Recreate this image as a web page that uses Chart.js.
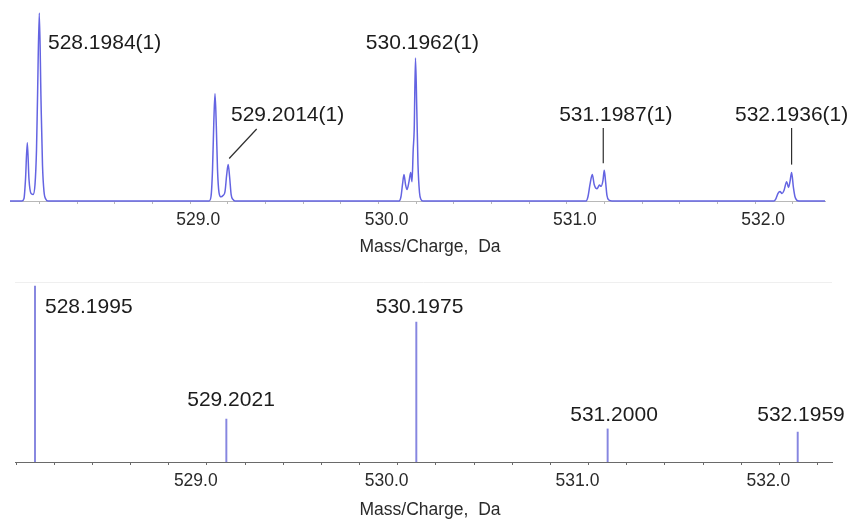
<!DOCTYPE html>
<html>
<head>
<meta charset="utf-8">
<title>Isotope pattern: measured vs. theoretical</title>
<script src="https://cdn.jsdelivr.net/npm/chart.js@4.4.1/dist/chart.umd.min.js"></script>
<style>
  html, body { margin: 0; padding: 0; background: #ffffff; }
  #wrap { position: relative; width: 852px; height: 521px; overflow: hidden; }
  canvas { position: absolute; left: 0; }
  #profile { top: 0; }
  #sticks { top: 262px; }
</style>
</head>
<body>
<div id="wrap">
  <canvas id="profile" width="852" height="261"></canvas>
  <canvas id="sticks" width="852" height="259"></canvas>
</div>
<script>
// ---- Measured profile spectrum, one isotope cluster per array: [m/z, relative intensity %]
const cluster528 = [
  [528.0428, 0], [528.1065, 0], [528.1172, 1.3], [528.1251, 11.4], [528.1347, 31],
  [528.1437, 11.4], [528.1543, 4], [528.1649, 3.4], [528.1756, 8.8], [528.1835, 27],
  [528.1888, 54], [528.1984, 100], [528.2074, 54], [528.2154, 19], [528.2234, 5],
  [528.2340, 0.8], [528.2446, 0]
];
const cluster529 = [
  [529.0997, 0], [529.1103, 2.4], [529.1183, 16.7], [529.1252, 42], [529.1315, 57],
  [529.1384, 40], [529.1448, 16.7], [529.1528, 4.5], [529.1634, 2.2], [529.1740, 2.9],
  [529.1846, 5], [529.1936, 14], [529.2014, 19.4], [529.2094, 12.5], [529.2173, 3.4],
  [529.2269, 0.8], [529.2376, 0]
];
const cluster530 = [
  [530.1087, 0], [530.1193, 2.4], [530.1273, 8.8], [530.1352, 14.1], [530.1432, 8.8],
  [530.1512, 6.1], [530.1618, 10.3], [530.1708, 15.1], [530.1777, 10.3], [530.1841, 27.3],
  [530.1894, 38], [530.1962, 76.1], [530.2032, 48.5], [530.2095, 19.4], [530.2175, 4.5],
  [530.2255, 0.8], [530.2361, 0]
];
const cluster531 = [
  [531.1018, 0], [531.1124, 2.4], [531.1230, 8.8], [531.1352, 14.1], [531.1453, 8.8],
  [531.1603, 6.5], [531.1735, 8.5], [531.1815, 7.8], [531.1920, 11], [531.1987, 16.3],
  [531.2060, 10], [531.2130, 3], [531.2230, 0.5], [531.2396, 0]
];
const cluster532 = [
  [532.1001, 0], [532.1107, 1.3], [532.1214, 4], [532.1320, 5], [532.1426, 4],
  [532.1532, 5.6], [532.1676, 10.3], [532.1771, 7.2], [532.1851, 10.3], [532.1936, 15.1],
  [532.2032, 7.2], [532.2112, 2.4], [532.2218, 0.3], [532.2324, 0], [532.3710, 0]
];

// Centroid masses annotated on the measured spectrum
const profilePeakMz = [528.1984, 529.2014, 530.1962, 531.1987, 532.1936];

// ---- Theoretical isotope distribution (stick spectrum)
const stickMz = [528.1995, 529.2021, 530.1975, 531.2000, 532.1959];
const stickIntensity = [100, 24.4, 79.5, 18.8, 17.0];

// ---- Shared x-axis tick positions (every 0.2 Da, labelled on whole Da)
const tickValues = [528.2, 528.4, 528.6, 528.8, 529.0, 529.2, 529.4, 529.6, 529.8, 530.0,
                    530.2, 530.4, 530.6, 530.8, 531.0, 531.2, 531.4, 531.6, 531.8, 532.0, 532.2];
const axisTitle = 'Mass/Charge,  Da';

// ---- Annotation placement (pixel offsets from the peak, text centre row)
const profileLabelLayout = [
  { align: 'left',   dx: 8.7,  ty: 43 },
  { align: 'left',   dx: 2.8,  ty: 115, leader: [1, -6, 28.5, 129] },
  { align: 'center', dx: 7,    ty: 43 },
  { align: 'center', dx: 11.5, ty: 115, leader: [-1, -7, -1, 128] },
  { align: 'center', dx: 0,    ty: 115, leader: [0, -8, 0, 128] }
];
const stickLabelLayout = [
  { align: 'left',   dx: 10,  ty: 45 },
  { align: 'center', dx: 4.7, ty: 138 },
  { align: 'center', dx: 3.2, ty: 45 },
  { align: 'center', dx: 6.4, ty: 153 },
  { align: 'center', dx: 3.3, ty: 153 }
];

const FONT = "'Liberation Sans', Arial, Helvetica, sans-serif";
const spectrum = [...cluster528, ...cluster529, ...cluster530, ...cluster531, ...cluster532];

function massAxis(min, max, axisColor, axisHeight) {
  return {
    type: 'linear',
    min, max,
    offset: false,
    afterBuildTicks: s => { s.ticks = tickValues.map(v => ({ value: v })); },
    afterFit: s => { s.height = axisHeight; },
    ticks: {
      autoSkip: false,
      maxRotation: 0,
      padding: 6,
      labelOffset: 8,
      color: '#2a2a2a',
      font: { family: FONT, size: 17.5 },
      callback: v => (Math.abs(v - Math.round(v)) < 1e-6 ? v.toFixed(1) : '')
    },
    grid: { display: true, drawOnChartArea: false, drawTicks: true, tickLength: 3, tickColor: axisColor },
    border: { display: true, color: axisColor, width: 1 },
    title: { display: false }
  };
}

// Axis caption under each mass axis
const axisCaption = {
  id: 'axisCaption',
  afterDraw(chart, args, opts) {
    const { ctx } = chart;
    ctx.save();
    ctx.font = `17.5px ${FONT}`;
    ctx.fillStyle = '#2a2a2a';
    ctx.textAlign = 'center';
    ctx.textBaseline = 'middle';
    ctx.fillText(axisTitle, opts.cx, opts.cy);
    ctx.restore();
  }
};

// Peak annotations for the measured spectrum, with leader lines where used
const profileLabels = {
  id: 'profileLabels',
  afterDatasetsDraw(chart) {
    const { ctx, scales: { x, y } } = chart;
    ctx.save();
    ctx.font = `21px ${FONT}`;
    ctx.fillStyle = '#1c1c1c';
    ctx.textBaseline = 'middle';
    ctx.strokeStyle = '#2e2e2e';
    ctx.lineWidth = 1.2;
    profilePeakMz.forEach((mz, i) => {
      const apex = spectrum.reduce((a, p) => (Math.abs(p[0] - mz) < Math.abs(a[0] - mz) ? p : a));
      const px = x.getPixelForValue(mz);
      const py = y.getPixelForValue(apex[1]);
      const L = profileLabelLayout[i];
      ctx.textAlign = L.align;
      ctx.fillText(mz.toFixed(4) + '(1)', px + L.dx, L.ty);
      if (L.leader) {
        ctx.beginPath();
        ctx.moveTo(px + L.leader[0], py + L.leader[1]);
        ctx.lineTo(px + L.leader[2], L.leader[3]);
        ctx.stroke();
      }
    });
    ctx.restore();
  }
};

// Mass labels for the theoretical sticks, plus the faint frame line on top
const stickLabels = {
  id: 'stickLabels',
  beforeDatasetsDraw(chart) {
    const { ctx, chartArea } = chart;
    ctx.save();
    ctx.strokeStyle = '#efefef';
    ctx.lineWidth = 1;
    ctx.beginPath();
    ctx.moveTo(chartArea.left, chartArea.top + 0.5);
    ctx.lineTo(chartArea.right, chartArea.top + 0.5);
    ctx.stroke();
    ctx.restore();
  },
  afterDatasetsDraw(chart) {
    const { ctx, scales: { x } } = chart;
    ctx.save();
    ctx.font = `21px ${FONT}`;
    ctx.fillStyle = '#1c1c1c';
    ctx.textBaseline = 'middle';
    stickMz.forEach((mz, i) => {
      const L = stickLabelLayout[i];
      ctx.textAlign = L.align;
      ctx.fillText(mz.toFixed(4), x.getPixelForValue(mz) + L.dx, L.ty);
    });
    ctx.restore();
  }
};

new Chart(document.getElementById('profile'), {
  type: 'line',
  data: {
    datasets: [{
      data: spectrum.map(([x, y]) => ({ x, y })),
      borderColor: '#6464e2',
      borderWidth: 1.5,
      pointRadius: 0,
      cubicInterpolationMode: 'monotone',
      fill: false,
      clip: false
    }]
  },
  options: {
    responsive: false,
    animation: false,
    events: [],
    layout: { padding: { left: 10, right: 27, top: 13, bottom: 0 } },
    plugins: {
      legend: { display: false },
      tooltip: { enabled: false },
      axisCaption: { cx: 430, cy: 247 }
    },
    scales: {
      x: massAxis(528.0428, 532.371, '#b8b8b8', 60),
      y: { display: false, min: 0, max: 100 }
    }
  },
  plugins: [profileLabels, axisCaption]
});

new Chart(document.getElementById('sticks'), {
  type: 'bar',
  data: {
    datasets: [{
      data: stickMz.map((x, i) => ({ x, y: stickIntensity[i] })),
      backgroundColor: '#8686e0',
      barThickness: 1.3,
      grouped: false
    }]
  },
  options: {
    responsive: false,
    animation: false,
    events: [],
    layout: { padding: { left: 15, right: 20, top: 20, bottom: 0 } },
    plugins: {
      legend: { display: false },
      tooltip: { enabled: false },
      axisCaption: { cx: 430, cy: 248 }
    },
    scales: {
      x: massAxis(528.0947, 532.3756, '#6a6a6a', 59),
      y: { display: false, min: 0, max: 102.27 }
    }
  },
  plugins: [stickLabels, axisCaption]
});
</script>
</body>
</html>
